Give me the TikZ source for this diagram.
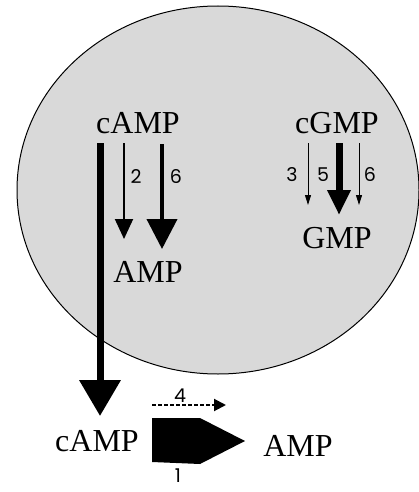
\documentclass[tikz,border=0pt]{standalone}
\usepackage{fontspec}
\setmainfont{Liberation Serif}
\newfontfamily\numfont{Poppins}
\usetikzlibrary{arrows.meta}
\definecolor{cellgray}{HTML}{D9D9D9}
\begin{document}
\begin{tikzpicture}[x=1pt,y=-1pt,
  mol/.style={inner sep=0pt,font=\fontsize{32}{38}\selectfont},
  num/.style={inner sep=0pt,font=\numfont\fontsize{19}{23}\selectfont},
  thinarr/.style={line width=1pt,-{Triangle[width=6pt,length=10pt]}},
  medarr/.style={line width=2pt,-{Triangle[width=18pt,length=20pt]}},
  bigarr/.style={line width=4pt,-{Triangle[width=30pt,length=30pt]}},
  fatarr/.style={line width=7pt,-{Triangle[width=22pt,length=25pt]}},
  hugearr/.style={line width=7pt,-{Triangle[width=40pt,length=36pt]}},
  dasharr/.style={line width=2pt,dash pattern=on 4pt off 2pt,-{Triangle[width=12pt,length=12pt]}}]
\useasboundingbox (0,0) rectangle (419,492);
\draw[fill=cellgray,line width=1pt] (218,190) ellipse [x radius=201, y radius=184];
% molecules
\node[mol] (campin) at (138,123) {cAMP};
\node[mol] (ampin) at (148,272) {AMP};
\node[mol] (cgmp) at (337,123) {cGMP};
\node[mol] (gmp) at (337,238) {GMP};
\node[mol] (campout) at (97,441) {cAMP};
\node[mol] (ampout) at (298,446) {AMP};
% arrow end points
\coordinate (a0s) at (100,143); \coordinate (a0e) at (100,416);
\coordinate (a2s) at (124,143); \coordinate (a2e) at (124,239);
\coordinate (a6s) at (162,144); \coordinate (a6e) at (162,249);
\coordinate (g3s) at (308,143); \coordinate (g3e) at (308,205);
\coordinate (g5s) at (339,143); \coordinate (g5e) at (339,215);
\coordinate (g6s) at (359,143); \coordinate (g6e) at (359,205);
\coordinate (d4s) at (152,405); \coordinate (d4e) at (226,405);
% arrows
\draw[hugearr] (a0s) -- (a0e);
\draw[medarr] (a2s) -- (a2e);
\draw[bigarr] (a6s) -- (a6e);
\draw[thinarr] (g3s) -- (g3e);
\draw[fatarr] (g5s) -- (g5e);
\draw[thinarr] (g6s) -- (g6e);
\draw[dasharr] (d4s) -- (d4e);
\fill (152,418) -- (200,418) -- (245,441) -- (200,464) -- (152,462) -- cycle;
% labels
\node[num] (n2) at (136,177) {2};
\node[num] (n6) at (176,177) {6};
\node[num] (n3) at (292,175) {3};
\node[num] (n5) at (323,175) {5};
\node[num] (n6b) at (370,175) {6};
\node[num] (n4) at (180,396) {4};
\node[num] (n1) at (178,476) {1};
\end{tikzpicture}
\end{document}
